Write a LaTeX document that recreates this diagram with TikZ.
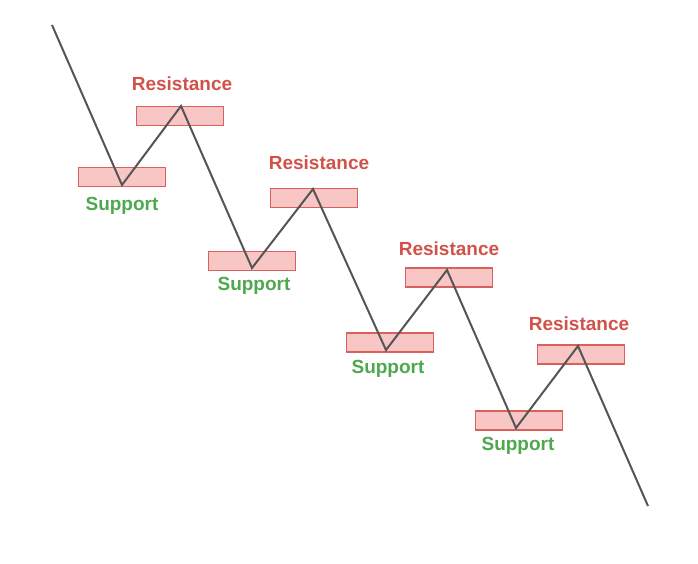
\documentclass[tikz,border=0pt]{standalone}
\usepackage{fontspec}
\setmainfont{Liberation Sans}
\definecolor{boxfill}{HTML}{F9C6C6}
\definecolor{boxdraw}{HTML}{D9605C}
\definecolor{resred}{HTML}{D2524B}
\definecolor{supgreen}{HTML}{4EA84E}
\definecolor{linegray}{HTML}{555555}
\tikzset{
  zonebox/.style={draw=boxdraw, fill=boxfill, line width=1.2pt, minimum width=87pt, minimum height=19pt, inner sep=0pt},
  reslabel/.style={text=resred, font=\bfseries\fontsize{19}{20}\selectfont, anchor=base, inner sep=0pt},
  suplabel/.style={text=supgreen, font=\bfseries\fontsize{19}{20}\selectfont, anchor=base, inner sep=0pt},
  priceline/.style={draw=linegray, line width=2pt, line join=miter}
}
\begin{document}
\begin{tikzpicture}[x=1pt,y=-1pt]
\useasboundingbox (0,0) rectangle (698,564);
\fill[white] (0,0) rectangle (698,564);
% zones
\node[zonebox] (s1) at (122,177) {};
\node[zonebox] (r1) at (180,116) {};
\node[zonebox] (s2) at (252,261) {};
\node[zonebox] (r2) at (314,198) {};
\node[zonebox] (s3) at (390,342.5) {};
\node[zonebox] (r3) at (449,277.5) {};
\node[zonebox] (s4) at (519,420.5) {};
\node[zonebox] (r4) at (581,354.5) {};
% labels
\node[reslabel] (lr1) at (182,91) {Resistance};
\node[suplabel] (ls1) at (122,211) {Support};
\node[reslabel] (lr2) at (319,170) {Resistance};
\node[suplabel] (ls2) at (254,290) {Support};
\node[reslabel] (lr3) at (449,255) {Resistance};
\node[suplabel] (ls3) at (388,373) {Support};
\node[reslabel] (lr4) at (579,330) {Resistance};
\node[suplabel] (ls4) at (518,450) {Support};
% price path
\coordinate (p0) at (52,25);
\coordinate (p1) at (122,185);
\coordinate (p2) at (181,106);
\coordinate (p3) at (252,268);
\coordinate (p4) at (313,189);
\coordinate (p5) at (386,350);
\coordinate (p6) at (447,270);
\coordinate (p7) at (516,428);
\coordinate (p8) at (578,346);
\coordinate (p9) at (648,506);
\draw[priceline] (p0) -- (p1) -- (p2) -- (p3) -- (p4) -- (p5) -- (p6) -- (p7) -- (p8) -- (p9);
\end{tikzpicture}
\end{document}
